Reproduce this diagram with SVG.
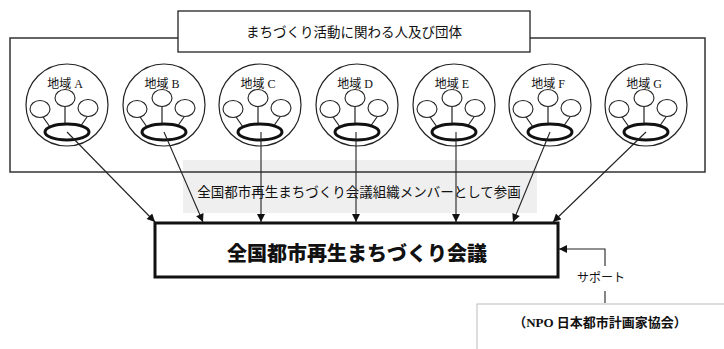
<svg xmlns="http://www.w3.org/2000/svg" width="724" height="349" viewBox="0 0 724 349">
<style>
.jp{font-family:"Noto Sans CJK JP","Liberation Sans",sans-serif;fill:#111}
.lbl{font-family:"Liberation Serif","Noto Sans CJK JP",serif;font-size:12px;fill:#111;text-anchor:middle}
.ring{fill:#fff;stroke:#222;stroke-width:1.2}
.sm{fill:#fff;stroke:#222;stroke-width:1.1}
.big{fill:#fff;stroke:#111;stroke-width:3}
.ln{stroke:#222;stroke-width:1.2}
.conn{stroke:#222;stroke-width:1.1;fill:none}
</style>
<defs>
<marker id="ah" viewBox="0 0 10 10" refX="10" refY="5" markerWidth="9" markerHeight="8" markerUnits="userSpaceOnUse" orient="auto">
<path d="M0,0 L10,5 L0,10 z" fill="#111"/>
</marker>
<g id="region">
<circle class="ring" cx="0" cy="0" r="41"/>
<line class="ln" x1="-2" y1="1" x2="-2" y2="19"/>
<line class="ln" x1="-24" y1="12" x2="-17" y2="22"/>
<line class="ln" x1="20" y1="12" x2="13" y2="22"/>
<ellipse class="sm" cx="-2" cy="-7" rx="10" ry="8.5"/>
<ellipse class="sm" cx="-27" cy="4" rx="10" ry="8.5"/>
<ellipse class="sm" cx="21" cy="3" rx="10" ry="8.5"/>
<ellipse class="big" cx="0" cy="27" rx="22" ry="8"/>
</g>
</defs>
<rect width="724" height="349" fill="#fff"/>
<rect id="band" x="183" y="160" width="354" height="53" fill="#efefef"/>
<g id="outer">
<rect x="10" y="38" width="695" height="134" fill="none" stroke="#333" stroke-width="1.5"/>
</g>
<g id="title">
<rect x="178" y="11" width="352" height="41" fill="#fff" stroke="#222" stroke-width="1.3"/>
<text class="jp" x="354" y="37" font-size="13.5" text-anchor="middle">まちづくり活動に関わる人及び団体</text>
</g>
<g id="nodeA" transform="translate(67,105)"><use href="#region"/><text class="lbl" x="-2" y="-17">地域 A</text></g>
<g id="nodeB" transform="translate(164,105)"><use href="#region"/><text class="lbl" x="-2" y="-17">地域 B</text></g>
<g id="nodeC" transform="translate(260,105)"><use href="#region"/><text class="lbl" x="-2" y="-17">地域 C</text></g>
<g id="nodeD" transform="translate(357,105)"><use href="#region"/><text class="lbl" x="-2" y="-17">地域 D</text></g>
<g id="nodeE" transform="translate(454,105)"><use href="#region"/><text class="lbl" x="-2" y="-17">地域 E</text></g>
<g id="nodeF" transform="translate(550,105)"><use href="#region"/><text class="lbl" x="-2" y="-17">地域 F</text></g>
<g id="nodeG" transform="translate(646,105)"><use href="#region"/><text class="lbl" x="-2" y="-17">地域 G</text></g>
<text class="jp" x="359" y="197" font-size="13.5" text-anchor="middle">全国都市再生まちづくり会議組織メンバーとして参画</text>
<g id="council">
<rect x="155" y="223" width="403" height="54" fill="#fff" stroke="#111" stroke-width="3"/>
<text class="jp" x="357" y="261" font-size="20" font-weight="900" text-anchor="middle">全国都市再生まちづくり会議</text>
</g>
<g id="npo">
<rect x="477" y="304" width="260" height="60" fill="#fff" stroke="#bbb" stroke-width="1"/>
<text x="600" y="327" font-family="Liberation Serif,'Noto Sans CJK JP',serif" font-size="13" font-weight="bold" text-anchor="middle" fill="#111">（NPO 日本都市計画家協会）</text>
</g>
<g id="connectors">
<line class="conn" x1="67" y1="132" x2="155" y2="222" marker-end="url(#ah)"/>
<line class="conn" x1="164" y1="132" x2="203" y2="222" marker-end="url(#ah)"/>
<line class="conn" x1="261" y1="132" x2="261" y2="222" marker-end="url(#ah)"/>
<line class="conn" x1="356" y1="132" x2="356" y2="222" marker-end="url(#ah)"/>
<line class="conn" x1="456" y1="132" x2="456" y2="222" marker-end="url(#ah)"/>
<line class="conn" x1="550" y1="132" x2="513" y2="222" marker-end="url(#ah)"/>
<line class="conn" x1="646" y1="132" x2="553" y2="222" marker-end="url(#ah)"/>
<polyline class="conn" points="605,266 605,249 559,249" marker-end="url(#ah)"/>
<line class="conn" x1="605" y1="291" x2="605" y2="303"/>
<text class="jp" x="601" y="282" font-size="12" text-anchor="middle">サポート</text>
</g>
</svg>
